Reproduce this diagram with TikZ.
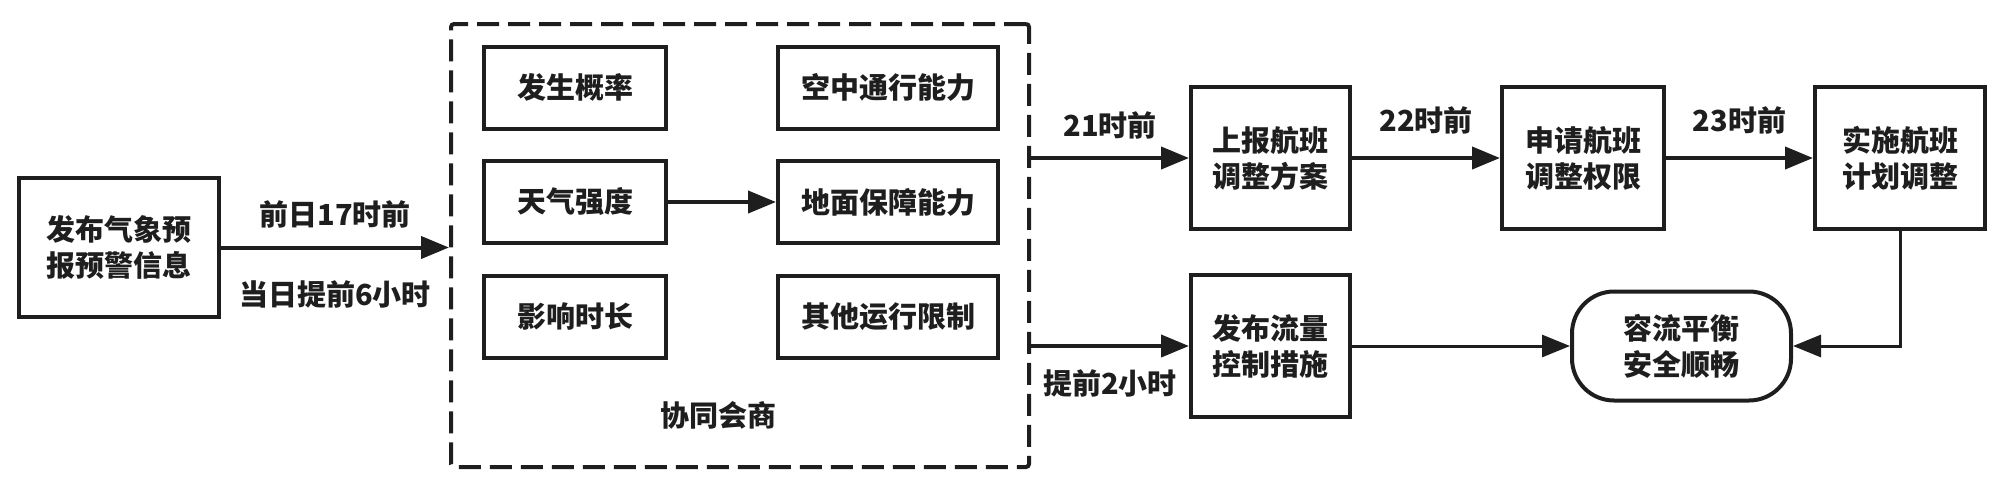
\documentclass[tikz,border=0pt]{standalone}
\usepackage{fontspec}
\setmainfont{Noto Sans CJK SC}
\usetikzlibrary{positioning}
\usetikzlibrary{arrows.meta}

\definecolor{ink}{HTML}{1E1E1E}

\begin{document}
\begin{tikzpicture}[
            x=1pt, y=-1pt,
            font=\fontsize{29pt}{36pt}\selectfont\bfseries,
            text=ink,
            block/.style={
                draw=ink,
                line width=4pt,
                align=center,
                inner sep=0pt,
                minimum width=#1,
                minimum height=82pt
            },
            block/.default=182pt,
            terminal/.style={
                draw=ink,
                line width=4pt,
                rounded corners=42pt,
                align=center,
                minimum width=219pt,
                minimum height=109pt
            },
            group/.style={
                draw=ink,
                line width=4pt,
                dash pattern=on 22pt off 9pt,
                rounded corners=3pt,
                minimum width=578pt,
                minimum height=443pt
            },
            timelabel/.style={inner sep=0pt},
            flow/.style={-{Triangle[length=28pt,width=22pt]}, draw=ink, line width=4pt},
            thinflow/.style={flow, line width=3pt}
        ]

        \useasboundingbox (0,0) rectangle (2000,488);

        \node[block=200pt, minimum height=139pt] (info) at (119,247.5)
            {发布气象预\\报预警信息};

        % collaborative consultation group
        \node[group] (consult) at (740,245.5) {};
        \node (consult label) at (718,415) {协同会商};

        \node[block] (prob) at (575,87.5) {发生概率};
        \node[block, below=28.5pt of prob] (intensity) {天气强度};
        \node[block, below=28.5pt of intensity] (duration) {影响时长};

        \node[block=220pt, right=108pt of prob] (air cap) {空中通行能力};
        \node[block=220pt, right=108pt of intensity] (ground cap) {地面保障能力};
        \node[block=220pt, right=108pt of duration] (other limit) {其他运行限制};

        % flight adjustment chain
        \node[block=159pt, minimum height=142pt] (report) at (1270.5,158)
            {上报航班\\调整方案};
        \node[block=162pt, minimum height=142pt, right=148pt of report] (apply)
            {申请航班\\调整权限};
        \node[block=170pt, minimum height=142pt, right=147pt of apply] (execute)
            {实施航班\\计划调整};

        \node[block=159pt, minimum height=142pt, below=42pt of report] (control)
            {发布流量\\控制措施};
        \node[terminal, right=218pt of control] (balance)
            {容流平衡\\安全顺畅};

        \draw[flow] (info) -- (consult.west |- info)
            node[timelabel, midway, above=17pt] {前日17时前}
            node[timelabel, midway, below=31pt] {当日提前6小时};
        \draw[flow] (intensity) -- (ground cap);

        \draw[flow] (consult.east |- report) -- (report)
            node[timelabel, midway, above=17pt] {21时前};
        \draw[flow] (consult.east |- control) -- (control)
            node[timelabel, midway, below=22pt] {提前2小时};
        \draw[flow] (report) -- (apply)
            node[timelabel, midway, above=22pt] {22时前};
        \draw[flow] (apply) -- (execute)
            node[timelabel, midway, above=22pt] {23时前};

        \draw[thinflow] (control) -- (balance);
        \draw[thinflow] (execute.south) |- (balance.east);

    \end{tikzpicture}
\end{document}
